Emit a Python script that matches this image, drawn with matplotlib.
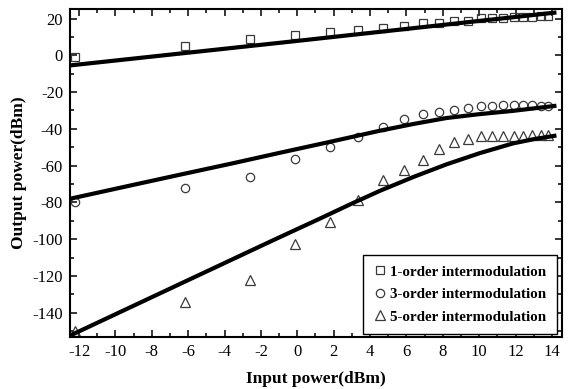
import matplotlib
matplotlib.use("Agg")
import matplotlib.pyplot as plt
from matplotlib.ticker import MultipleLocator

plt.rcParams['font.family'] = ['Liberation Serif', 'DejaVu Serif']
plt.rcParams['axes.unicode_minus'] = False

# measured input powers (dBm)
p_in = [-12.2, -6.2, -2.6, -0.15, 1.8, 3.35, 4.7, 5.85, 6.9, 7.8,
        8.6, 9.4, 10.1, 10.7, 11.3, 11.9, 12.4, 12.9, 13.4, 13.8]

# measured output powers (dBm)
im1 = [-1.0, 5.3, 8.8, 11.3, 12.6, 13.5, 15.1, 16.0, 17.3, 17.5,
       18.9, 18.9, 20.2, 20.2, 20.5, 20.8, 21.0, 21.1, 21.4, 21.5]
im3 = [-80.0, -72.2, -66.2, -56.3, -50.1, -44.5, -39.2, -34.7, -32.0, -30.9,
       -29.6, -28.7, -27.4, -27.4, -27.1, -26.8, -26.8, -27.2, -27.4, -27.5]
im5 = [-150.1, -134.3, -122.4, -102.4, -90.7, -78.7, -67.7, -62.2, -56.8, -50.8,
       -47.4, -45.5, -44.1, -43.8, -44.1, -44.1, -43.8, -43.4, -43.3, -43.3]

# fitted curves
fit1_x = [-12.5, -0.13, 14.25]
fit1_y = [-5.5, 7.7, 23.3]
fit3_x = [-12.5, -9.0, -6.45, -3.5, -0.96, 2.0, 4.54, 6.4, 8.2, 10.0, 11.86, 14.25]
fit3_y = [-78.0, -70.4, -64.9, -58.6, -53.0, -46.6, -41.0, -37.3, -34.1, -32.0, -30.2, -27.4]
fit5_x = [-12.5, -6.17, -1.32, 1.24, 3.0, 4.54, 6.37, 8.2, 10.03, 11.86, 13.0, 14.25]
fit5_y = [-152.4, -123.0, -100.5, -88.8, -80.6, -73.7, -66.2, -59.3, -53.2, -47.9, -45.6, -43.6]

fig = plt.figure(figsize=(5.76, 3.89), dpi=100)
ax = fig.add_axes([0.1215, 0.1344, 0.854, 0.8416])

mk = dict(linestyle='none', markerfacecolor='none', markeredgecolor='#3a3a3a',
          markeredgewidth=0.9)
ax.plot(p_in, im1, marker='s', markersize=6, label='1-order intermodulation', **mk)
ax.plot(p_in, im3, marker='o', markersize=6, label='3-order intermodulation', **mk)
ax.plot(p_in, im5, marker='^', markersize=7, label='5-order intermodulation', **mk)

for fx, fy in [(fit1_x, fit1_y), (fit3_x, fit3_y), (fit5_x, fit5_y)]:
    ax.plot(fx, fy, color='black', linewidth=3, solid_capstyle='butt',
            solid_joinstyle='round')

ax.set_xlim(-12.5, 14.55)
ax.set_ylim(-153, 25)
ax.xaxis.set_major_locator(MultipleLocator(2))
ax.xaxis.set_minor_locator(MultipleLocator(1))
ax.yaxis.set_major_locator(MultipleLocator(20))
ax.yaxis.set_minor_locator(MultipleLocator(10))
ax.tick_params(which='both', direction='in', top=True, right=True,
               width=1.1, labelsize=12, pad=5)
ax.tick_params(which='major', length=5)
ax.tick_params(which='minor', length=3)
for s in ax.spines.values():
    s.set_linewidth(1.5)

ax.set_xlabel('Input power(dBm)', fontsize=12.5, fontweight='bold', labelpad=8.5)
ax.set_ylabel('Output power(dBm)', fontsize=12.5, fontweight='bold', labelpad=4)

leg = ax.legend(loc='lower right', bbox_to_anchor=(0.99, 0.008), borderaxespad=0,
                fancybox=False, edgecolor='black', framealpha=1,
                prop={'family': 'Liberation Serif', 'weight': 'bold', 'size': 10.8},
                handlelength=0.8, handletextpad=0.3, labelspacing=0.6,
                borderpad=0.7)
leg.get_frame().set_linewidth(1.0)

fig.savefig('out.png', dpi=100)
